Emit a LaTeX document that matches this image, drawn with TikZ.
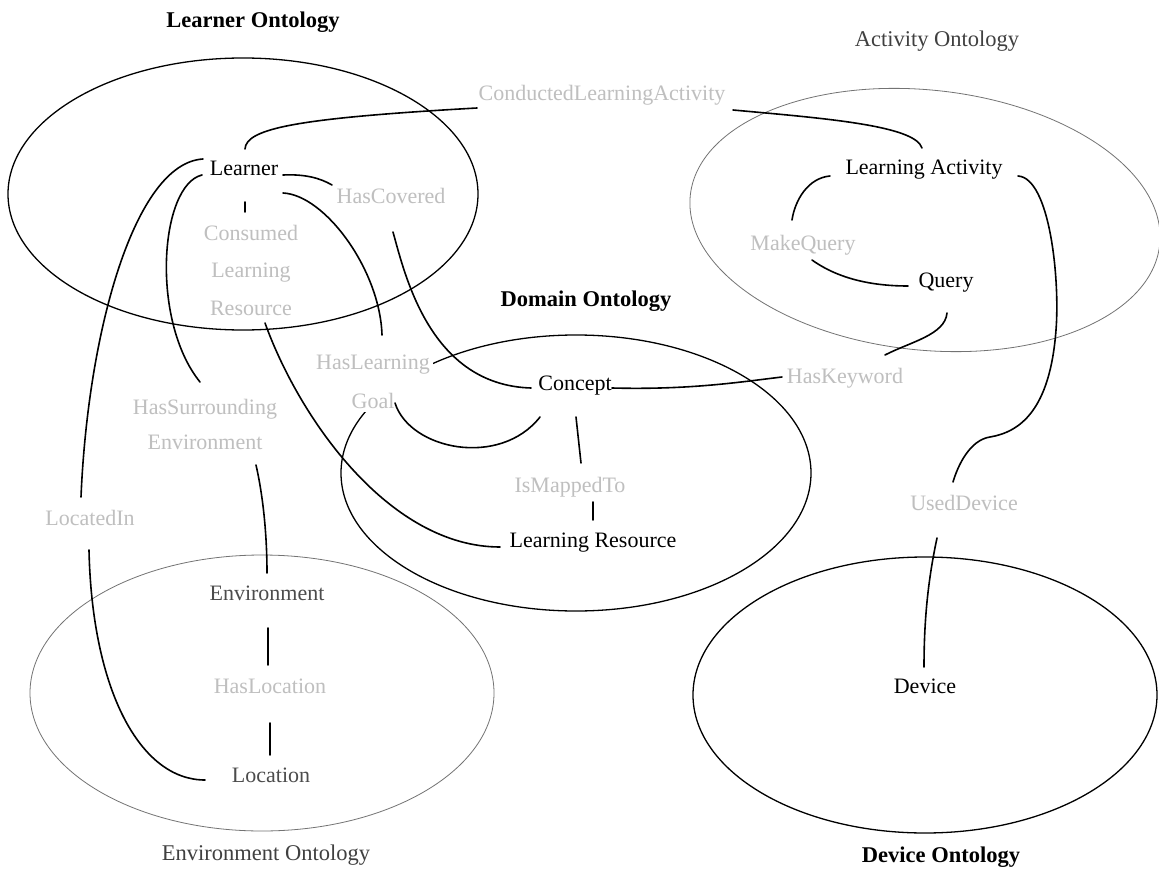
\documentclass[tikz,border=0pt]{standalone}
\usepackage{fontspec}
\setmainfont{Liberation Serif}
\usetikzlibrary{calc}
\begin{document}
\begin{tikzpicture}[x=1pt,y=-1pt,
  every node/.style={inner sep=0pt, font=\fontsize{22}{26}\selectfont},
  obj/.style={anchor=base, text=black},
  rel/.style={anchor=base, text=black!25, fill=white},
  dim/.style={anchor=base, text=black!70},
  ttl/.style={anchor=base, font=\fontsize{22.5}{26}\selectfont\bfseries},
  ttlr/.style={anchor=base, text=black!75, font=\fontsize{22.5}{26}\selectfont},
  link/.style={line width=1.6pt, line cap=round},
  onto/.style={line width=1.3pt},
  ontothin/.style={line width=0.8pt, draw=black!55}]

% page
\fill[white] (0,0) rectangle (1159,869);
\useasboundingbox (0,0) rectangle (1159,869);

% ontology regions
\draw[onto] (243,194) ellipse [x radius=235pt, y radius=136pt];
\draw[ontothin, rotate around={-6:(925,220)}] (925,220) ellipse [x radius=236pt, y radius=130pt];
\draw[onto] (576,473) ellipse [x radius=235pt, y radius=138pt];
\draw[ontothin] (262,693) ellipse [x radius=232pt, y radius=138pt];
\draw[onto] (925,695) ellipse [x radius=232pt, y radius=138pt];

% titles
\node[ttl]  (tlearner)  at (253,28)  {Learner Ontology};
\node[ttlr] (tactivity) at (937,47)  {Activity Ontology};
\node[ttl]  (tdomain)   at (586,306) {Domain Ontology};
\node[ttlr] (tenv)      at (266,860) {Environment Ontology};
\node[ttl]  (tdevice)   at (941,862) {Device Ontology};

% concepts
\node[obj] (learner) at (244,176) {Learner};
\node[obj] (la)      at (924,175) {Learning Activity};
\node[obj] (query)   at (946,287) {Query};
\node[obj] (concept) at (575,390) {Concept};
\node[obj] (lr)      at (593,547) {Learning Resource};
\node[dim] (env)     at (267,600) {Environment};
\node[dim] (loc)     at (271,782) {Location};
\node[obj] (device)  at (925,693) {Device};

% relations
\node[rel] (hascov)  at (391,204) {HasCovered};
\node[rel, anchor=center, align=center, font=\fontsize{22}{37.5}\selectfont]
  (consumed) at (251,270) {Consumed\\Learning\\Resource};
\node[rel] (cla)     at (602,101) {ConductedLearningActivity};
\node[rel] (mq)      at (803,251) {MakeQuery};
\node[rel, anchor=center, align=center, inner sep=3pt, font=\fontsize{22}{39}\selectfont]
  (hlg) at (373,382) {HasLearning\\Goal};
\node[rel] (hkw)     at (845,383) {HasKeyword};
\node[rel] (imt)     at (570,492) {IsMappedTo};
\node[rel, anchor=center, align=center, font=\fontsize{22}{35}\selectfont]
  (hse) at (205,424) {HasSurrounding\\Environment};
\node[rel] (locin)   at (90,525)  {LocatedIn};
\node[rel] (hasloc)  at (270,693) {HasLocation};
\node[rel] (useddev) at (964,510) {UsedDevice};

% links
\draw[link] ($(learner.base)+(1,-27)$) .. controls (246,128) and (300,118) .. ($(cla.base)+(-125,7)$);
\draw[link] ($(cla.base)+(131,9)$) .. controls (820,118) and (915,125) .. ($(la.base)+(-2,-27)$);
\draw[link] ($(learner.base)+(39,-1)$) .. controls (305,174) and (320,178) .. ($(hascov.base)+(-59,-19)$);
\draw[link] ($(hascov.base)+(2,28)$) .. controls (405,275) and (430,385) .. ($(concept.base)+(-44,-2)$);
\draw[link] ($(learner.base)+(39,17)$) .. controls (325,195) and (380,270) .. ($(hlg.center)+(9,-47)$);
\draw[link] ($(hlg.center)+(22,21)$) .. controls (410,450) and (500,468) .. ($(concept.base)+(-35,27)$);
\draw[link] ($(learner.base)+(1,26)$) -- ($(consumed.center)+(-6,-58)$);
\draw[link] ($(consumed.center)+(14,53)$) .. controls (300,420) and (390,547) .. ($(lr.base)+(-93,0)$);
\draw[link] ($(learner.base)+(-42,-1)$) .. controls (160,185) and (150,320) .. ($(hse.center)+(-5,-42)$);
\draw[link] ($(learner.base)+(-41,-17)$) .. controls (135,163) and (88,330) .. ($(locin.base)+(-9,-28)$);
\draw[link] ($(locin.base)+(-1,25)$) .. controls (92,690) and (140,780) .. ($(loc.base)+(-66,-2)$);
\draw[link] ($(hse.center)+(51,41)$) .. controls (264,500) and (267,540) .. ($(env.base)+(0,-27)$);
\draw[link] ($(env.base)+(1,28)$) -- ($(hasloc.base)+(-2,-28)$);
\draw[link] ($(hasloc.base)+(0,30)$) -- ($(loc.base)+(-1,-27)$);
\draw[link] ($(la.base)+(-94,1)$) .. controls (808,178) and (795,200) .. ($(mq.base)+(-11,-31)$);
\draw[link] ($(mq.base)+(9,9)$) .. controls (840,280) and (875,286) .. ($(query.base)+(-38,-1)$);
\draw[link] ($(query.base)+(1,26)$) .. controls (945,335) and (910,342) .. ($(hkw.base)+(40,-28)$);
\draw[link] ($(concept.base)+(37,-2)$) .. controls (690,390) and (740,382) .. ($(hkw.base)+(-63,-6)$);
\draw[link] ($(concept.base)+(1,27)$) .. controls (579,440) .. ($(imt.base)+(11,-29)$);
\draw[link] ($(imt.base)+(23,10)$) -- ($(lr.base)+(0,-27)$);
\draw[link] ($(la.base)+(94,1)$) .. controls (1050,178) and (1060,280) .. (1056,330)
  .. controls (1050,410) and (1020,432) .. (990,437)
  .. controls (970,440) and (958,465) .. ($(useddev.base)+(-11,-28)$);
\draw[link] ($(useddev.base)+(-27,28)$) .. controls (928,580) and (924,620) .. ($(device.base)+(-1,-26)$);
\end{tikzpicture}
\end{document}
